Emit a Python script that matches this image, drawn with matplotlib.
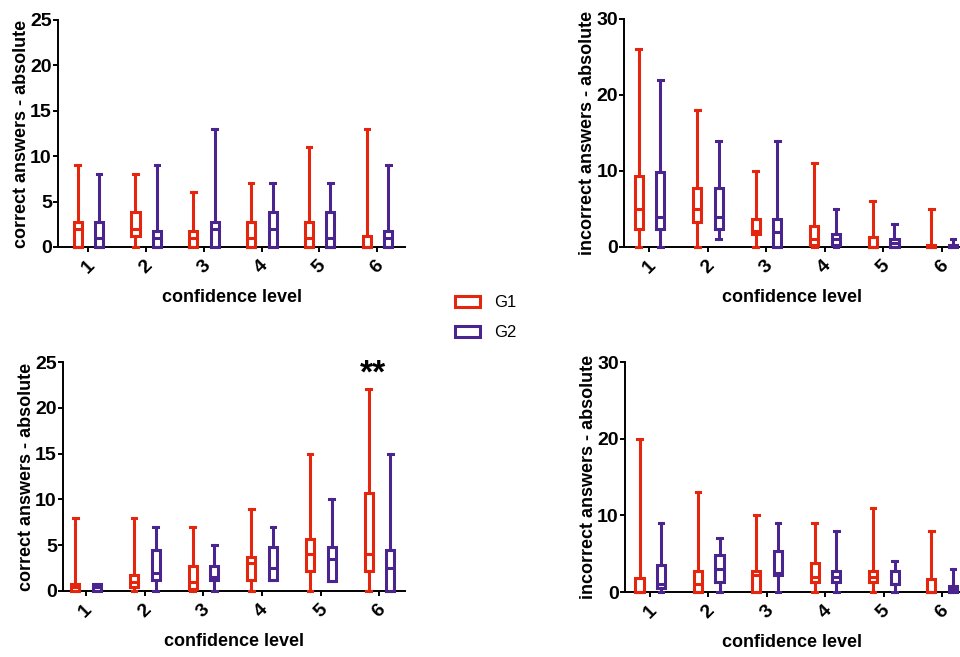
import matplotlib
matplotlib.use("Agg")
import matplotlib.pyplot as plt
from matplotlib.patches import Rectangle

plt.rcParams['font.family'] = ['Liberation Sans', 'DejaVu Sans']

RED = '#e5260e'
PURPLE = '#4a2590'
LW = 2.2

levels = [1, 2, 3, 4, 5, 6]
level_labels = ['1', '2', '3', '4', '5', '6']
group_names = ['G1', 'G2']

# (whisker low, q1, median, q3, whisker high) for each confidence level
correct_top_g1 = [(0, 0, 2, 2.75, 9), (0, 1.2, 2, 3.8, 8), (0, 0, 1, 1.8, 6),
                  (0, 0, 1, 2.75, 7), (0, 0, 1, 2.75, 11), (0, 0, 0, 1.2, 13)]
correct_top_g2 = [(0, 0, 1, 2.75, 8), (0, 0, 1, 1.8, 9), (0, 0, 2, 2.75, 13),
                  (0, 0, 2, 3.8, 7), (0, 0, 1, 3.8, 7), (0, 0, 1, 1.75, 9)]

incorrect_top_g1 = [(0, 2.3, 5, 9.3, 26), (0, 3.25, 5, 7.75, 18), (0, 1.7, 2.1, 3.7, 10),
                    (0, 0.25, 1, 2.7, 11), (0, 0, 0, 1.25, 6), (0, 0, 0, 0.2, 5)]
incorrect_top_g2 = [(0, 2.3, 4, 9.8, 22), (1, 2.3, 4, 7.75, 14), (0, 0, 2, 3.7, 14),
                    (0, 0.25, 1, 1.7, 5), (0, 0, 0.5, 1, 3), (0, 0, 0, 0.25, 1)]

correct_bottom_g1 = [(0, 0, 0.4, 0.75, 8), (0, 0.45, 1, 1.7, 8), (0, 0.25, 1, 2.7, 7),
                     (0, 1.2, 3, 3.75, 9), (0, 2.2, 4, 5.7, 15), (0, 2.2, 4, 10.7, 22)]
correct_bottom_g2 = [(0, 0, 0.4, 0.75, 0.75), (0, 1.25, 2, 4.5, 7), (0, 1.25, 1.5, 2.7, 5),
                     (1.2, 1.2, 2.5, 4.8, 7), (1.1, 1.1, 3.5, 4.8, 10), (0, 0, 2.5, 4.5, 15)]

incorrect_bottom_g1 = [(0, 0, 0, 1.8, 20), (0, 0, 1, 2.7, 13), (0, 0, 2.25, 2.7, 10),
                       (0, 1.25, 2, 3.75, 9), (0, 1.25, 2, 2.7, 11), (0, 0, 0, 1.7, 8)]
incorrect_bottom_g2 = [(0, 0.5, 1, 3.5, 9), (0, 1.25, 3, 4.8, 7), (0, 2.2, 2.5, 5.4, 9),
                       (0, 1.25, 2, 2.7, 8), (0, 1, 1, 2.7, 4), (0, 0, 0.4, 0.75, 3)]


def draw_panel(ax, g1, g2, ymax, yticks, ylabel, xlim):
    for data, off, col in ((g1, -0.18, RED), (g2, 0.19, PURPLE)):
        stats = [dict(whislo=a, q1=b, med=c, q3=d, whishi=e, fliers=[])
                 for a, b, c, d, e in data]
        line = dict(color=col, linewidth=LW)
        art = ax.bxp(stats, positions=[l + off for l in levels], widths=0.14,
                     capwidths=0.08, showfliers=False, manage_ticks=False,
                     boxprops=dict(line, solid_joinstyle='miter'),
                     whiskerprops=line, capprops=line,
                     medianprops=dict(line, solid_capstyle='butt'), zorder=3)
        for lines in art.values():
            for ln in lines:
                ln.set_clip_on(False)

    ax.set_xlim(*xlim)
    ax.set_ylim(0, ymax)
    ax.set_yticks(yticks)
    ax.set_xticks(levels)
    ax.set_xticklabels(level_labels, rotation=45, ha='center')
    ax.spines['top'].set_visible(False)
    ax.spines['right'].set_visible(False)
    ax.spines['left'].set_linewidth(1.4)
    ax.spines['bottom'].set_linewidth(1.4)
    ax.tick_params(width=1.4, length=3.6, labelsize=14)
    ax.tick_params(axis='y', pad=0.8)
    ax.tick_params(axis='x', pad=3.5)
    for t in ax.get_xticklabels() + ax.get_yticklabels():
        t.set_fontweight('bold')
    ax.set_ylabel(ylabel, fontsize=13, fontweight='bold', labelpad=0)
    ax.set_xlabel('confidence level', fontsize=13, fontweight='bold', labelpad=9)


fig = plt.figure(figsize=(9.6, 6.57), dpi=100)

ax1 = fig.add_axes([0.0604, 0.6241, 0.3615, 0.3455])
ax2 = fig.add_axes([0.650, 0.6241, 0.350, 0.3470])
ax3 = fig.add_axes([0.0656, 0.1005, 0.3563, 0.3485])
ax4 = fig.add_axes([0.651, 0.0989, 0.349, 0.3500])

draw_panel(ax1, correct_top_g1, correct_top_g2, 25, [0, 5, 10, 15, 20, 25],
           'correct answers - absolute', (0.48, 6.48))
draw_panel(ax2, incorrect_top_g1, incorrect_top_g2, 30, [0, 10, 20, 30],
           'incorrect answers - absolute', (0.57, 6.31))
draw_panel(ax3, correct_bottom_g1, correct_bottom_g2, 25, [0, 5, 10, 15, 20, 25],
           'correct answers - absolute', (0.61, 6.44))
draw_panel(ax4, incorrect_bottom_g1, incorrect_bottom_g2, 30, [0, 10, 20, 30],
           'incorrect answers - absolute', (0.57, 6.31))

ax3.text(6 - 0.1, 22.8, '**', ha='center', va='baseline', fontsize=24,
         fontweight='bold')

handles = [Rectangle((0, 0), 1, 1, facecolor='white', edgecolor=c, linewidth=LW)
           for c in (RED, PURPLE)]
fig.legend(handles, group_names, loc='center', bbox_to_anchor=(0.506, 0.516),
           frameon=False, fontsize=12, handlelength=1.5, handleheight=0.65,
           labelspacing=0.9, handletextpad=0.8)

fig.savefig('out.png', dpi=100)
